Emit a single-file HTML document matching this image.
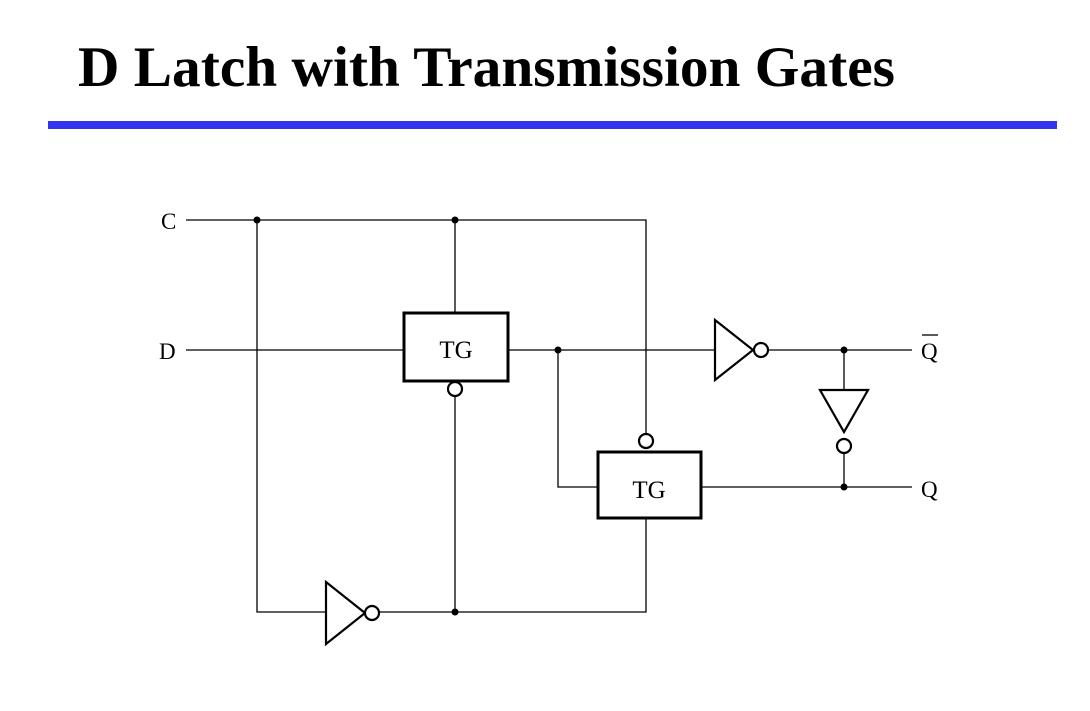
<!DOCTYPE html>
<html><head><style>
body{margin:0;width:1090px;height:711px;background:#fff;overflow:hidden}
</style></head><body>
<svg width="1090" height="711" xmlns="http://www.w3.org/2000/svg" style="position:absolute;left:0;top:0">
<text x="78" y="86" font-family="Liberation Serif, serif" font-weight="bold" font-size="57" textLength="817" lengthAdjust="spacingAndGlyphs">D Latch with Transmission Gates</text>
<rect x="48" y="121" width="1009" height="8" fill="#3333f0"/>
<g stroke="#000" stroke-width="1.3" fill="none">
<path d="M186 220H646V434"/>
<path d="M257 220V612H326"/>
<path d="M455 220V313"/>
<path d="M455 396V612"/>
<path d="M379 612H646V518"/>
<path d="M186 350H404"/>
<path d="M508 350H715"/>
<path d="M558 350V487H598"/>
<path d="M701 487H912"/>
<path d="M768 350H912"/>
<path d="M844 350V390"/>
<path d="M844 453V487"/>
</g>
<g stroke="#000" stroke-width="3" fill="#fff">
<rect x="404" y="313" width="104" height="68"/>
<rect x="598" y="452" width="103" height="66"/>
</g>
<g stroke="#000" stroke-width="2.2" fill="#fff">
<circle cx="455" cy="389" r="7"/>
<circle cx="646" cy="441" r="7"/>
<polygon points="715,320 753,350 715,380"/>
<circle cx="761" cy="350" r="7"/>
<polygon points="820,390 868,390 844,432"/>
<circle cx="844" cy="446" r="7"/>
<polygon points="326,582 365,613 326,644"/>
<circle cx="372" cy="613" r="7"/>
</g>
<g fill="#000">
<circle cx="257" cy="220" r="3.5"/>
<circle cx="455" cy="220" r="3.5"/>
<circle cx="455" cy="612" r="3.5"/>
<circle cx="558" cy="350" r="3.5"/>
<circle cx="844" cy="350" r="3.5"/>
<circle cx="844" cy="487" r="3.5"/>
</g>
<g font-family="Liberation Serif, serif" font-size="23" fill="#000">
<text x="161" y="229">C</text>
<text x="159" y="359">D</text>
<text x="921" y="359">Q</text>
<line x1="922" y1="335" x2="938" y2="335" stroke="#000" stroke-width="1.3"/>
<text x="921" y="497">Q</text>
<text x="456" y="358" text-anchor="middle" font-size="25">TG</text>
<text x="649" y="498" text-anchor="middle" font-size="25">TG</text>
</g>
</svg>
</body></html>
